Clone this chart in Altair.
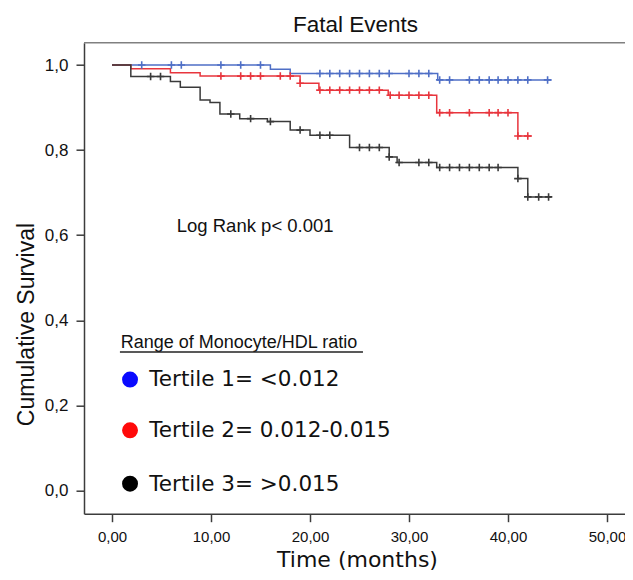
import altair as alt
import pandas as pd

# ---- Data (Kaplan-Meier steps) ----
groups = ["Tertile 1", "Tertile 2", "Tertile 3"]

t1_times = [0.0, 16.0, 18.0, 32.9]
t1_surv = [1.000, 0.990, 0.980, 0.965]
t1_end = 44.4
t1_cens = [3.0, 6.0, 7.0, 11.0, 13.0, 15.0, 21.0, 22.0, 23.0, 24.0, 25.0, 26.0,
           27.0, 28.0, 30.0, 31.0, 32.0, 33.1, 34.1, 36.1, 37.1, 38.1, 39.0,
           40.0, 41.0, 42.0, 44.0]

t2_times = [0.0, 1.9, 5.9, 8.9, 19.0, 20.9, 27.9, 32.8, 41.0]
t2_surv = [1.000, 0.991, 0.982, 0.974, 0.957, 0.941, 0.929, 0.888, 0.833]
t2_end = 42.4
t2_cens = [11.0, 13.0, 14.0, 15.0, 17.0, 18.0, 19.0, 21.0, 22.0, 23.0, 24.0,
           25.0, 26.0, 27.0, 28.1, 29.0, 30.0, 31.0, 32.0, 33.1, 34.1, 36.1,
           38.1, 39.0, 40.0, 41.0, 42.0]

t3_times = [0.0, 1.9, 5.9, 6.9, 8.9, 9.9, 10.9, 12.9, 15.7, 18.0, 20.0, 24.0,
            28.0, 28.8, 32.8, 41.0, 42.0]
t3_surv = [1.000, 0.973, 0.961, 0.948, 0.918, 0.912, 0.885, 0.874, 0.867,
           0.847, 0.835, 0.806, 0.784, 0.771, 0.759, 0.733, 0.690]
t3_end = 44.4
t3_cens = [3.9, 4.9, 12.0, 14.0, 16.0, 19.0, 21.0, 22.0, 25.0, 26.0, 27.0,
           28.0, 29.0, 31.0, 32.0, 33.1, 34.1, 35.1, 36.1, 37.1, 38.1, 39.0,
           41.0, 42.0, 43.1, 44.1]

x_ticks = [0, 10, 20, 30, 40, 50]
y_ticks = [0.0, 0.2, 0.4, 0.6, 0.8, 1.0]

chart_title = "Fatal Events"
legend_header = "Range of Monocyte/HDL ratio"
legend_labels = ["Tertile 1= <0.012", "Tertile 2= 0.012-0.015", "Tertile 3= >0.015"]
stat_text = "Log Rank p< 0.001"

# ---- Styles ----
line_colors = ["#4f6fc6", "#e8353d", "#3a3a3a"]
cross_colors = ["#27449e", "#e01e26", "#111111"]
dot_colors = ["#0a0aff", "#ff0a0a", "#000000"]

# ---- Annotation anchors (data units) ----
title_pos = (24.6, 1.0776)
header_pos = (0.88, 0.335)
underline_pos = (0.8, 25.35, 0.3254)
dot_x = 1.82
dot_y = [0.2605, 0.1412, 0.0158]
label_x = 3.77
label_y = [0.2447, 0.1254, -0.0024]
stat_pos = (6.54, 0.607)

X_DOMAIN = [-2.83, 51.82]
Y_DOMAIN = [-0.0548, 1.0525]
W, H = 541, 471

# ---- Build tables ----
series = [
    (t1_times, t1_surv, t1_end, t1_cens),
    (t2_times, t2_surv, t2_end, t2_cens),
    (t3_times, t3_surv, t3_end, t3_cens),
]
step_rows, cens_rows = [], []
for gi, (ts, ss, end, cens) in enumerate(series):
    g = groups[gi]
    for t, s in zip(ts, ss):
        step_rows.append({"g": g, "t": t, "s": s})
    step_rows.append({"g": g, "t": end, "s": ss[-1]})
    for c in cens:
        val = ss[0]
        for t, s in zip(ts, ss):
            if c >= t:
                val = s
        cens_rows.append({"g": g, "t": c, "s": val})
steps = pd.DataFrame(step_rows)
censored = pd.DataFrame(cens_rows)

legend_df = pd.DataFrame({"t": [dot_x] * 3, "s": dot_y, "c": dot_colors})
labels_df = pd.DataFrame({"t": [label_x] * 3, "s": label_y, "txt": legend_labels})
header_df = pd.DataFrame({"t": [header_pos[0]], "s": [header_pos[1]], "txt": [legend_header]})
underline_df = pd.DataFrame({"t": [underline_pos[0]], "t2": [underline_pos[1]], "s": [underline_pos[2]]})
stat_df = pd.DataFrame({"t": [stat_pos[0]], "s": [stat_pos[1]], "txt": [stat_text]})
title_df = pd.DataFrame({"t": [title_pos[0]], "s": [title_pos[1]], "txt": [chart_title]})
frame_df = pd.DataFrame({"t": [X_DOMAIN[0]], "t2": [X_DOMAIN[1]], "s": [Y_DOMAIN[1]]})

xs = alt.Scale(domain=X_DOMAIN, nice=False, zero=False)
ys = alt.Scale(domain=Y_DOMAIN, nice=False, zero=False)

x_axis = alt.Axis(
    values=x_ticks,
    labelExpr="replace(format(datum.value, '.2f'), '.', ',')",
    title="Time (months)", grid=False, tickSize=8, labelPadding=7.5,
    labelFont="Liberation Sans", labelFontSize=15, labelColor="#111",
    titleFont="DejaVu Sans", titleFontSize=22, titleFontWeight="normal",
    titleColor="#111", titleX=273, titleY=52.3, titleBaseline="alphabetic",
    titleAlign="center",
)
y_axis = alt.Axis(
    values=y_ticks,
    labelExpr="replace(format(datum.value, '.1f'), '.', ',')",
    title="Cumulative Survival", grid=False, tickSize=8, labelPadding=8,
    labelFont="Liberation Sans", labelFontSize=17, labelColor="#111",
    titleFont="Liberation Sans", titleFontSize=23, titleFontWeight="normal",
    titleColor="#111", titleX=-51, titleY=281.3, titleAngle=270,
    titleBaseline="alphabetic", titleAlign="center",
)

X = alt.X("t:Q", scale=xs, axis=x_axis)
Y = alt.Y("s:Q", scale=ys, axis=y_axis)

lines = alt.Chart(steps).mark_line(interpolate="step-after", strokeWidth=1.5).encode(
    x=X, y=Y,
    color=alt.Color("g:N", scale=alt.Scale(domain=groups, range=line_colors), legend=None),
    order=alt.Order("t:Q"),
)

PLUS = "M0,-1L0,1M-1,0L1,0"
crosses = alt.Chart(censored).mark_point(shape=PLUS, size=56, strokeWidth=1.6, filled=False, opacity=1).encode(
    x=X, y=Y,
    color=alt.Color("g:N", scale=alt.Scale(domain=groups, range=cross_colors), legend=None),
)

frame = alt.Chart(frame_df).mark_rule(strokeWidth=1.5, color="#808080").encode(
    x=X, x2="t2:Q", y=Y,
)

dots = alt.Chart(legend_df).mark_circle(size=254, opacity=1).encode(
    x=X, y=Y, color=alt.Color("c:N", scale=None),
)

labels = alt.Chart(labels_df).mark_text(
    align="left", baseline="alphabetic", font="DejaVu Sans", fontSize=21.5, color="#111"
).encode(x=X, y=Y, text="txt:N")

header = alt.Chart(header_df).mark_text(
    align="left", baseline="alphabetic", font="Liberation Sans", fontSize=18, color="#111"
).encode(x=X, y=Y, text="txt:N")

underline = alt.Chart(underline_df).mark_rule(strokeWidth=1.5, color="#222").encode(
    x=X, x2="t2:Q", y=Y,
)

stat = alt.Chart(stat_df).mark_text(
    align="left", baseline="alphabetic", font="Liberation Sans", fontSize=18.5, color="#111"
).encode(x=X, y=Y, text="txt:N")

title = alt.Chart(title_df).mark_text(
    align="center", baseline="alphabetic", font="Liberation Sans", fontSize=22.5, color="#111"
).encode(x=X, y=Y, text="txt:N")

chart = alt.layer(frame, lines, crosses, dots, labels, header, underline, stat, title).properties(
    width=W, height=H,
    autosize=alt.AutoSizeParams(type="none"),
    padding={"left": 76, "top": 34.7, "right": 0, "bottom": 58.3},
).configure_view(
    strokeWidth=0
).configure_axis(
    domainColor="#3c3c3c", domainWidth=1.5, tickColor="#3c3c3c", tickWidth=1.5
)

chart.save("out.html", embed_options={"renderer": "svg", "actions": False})
